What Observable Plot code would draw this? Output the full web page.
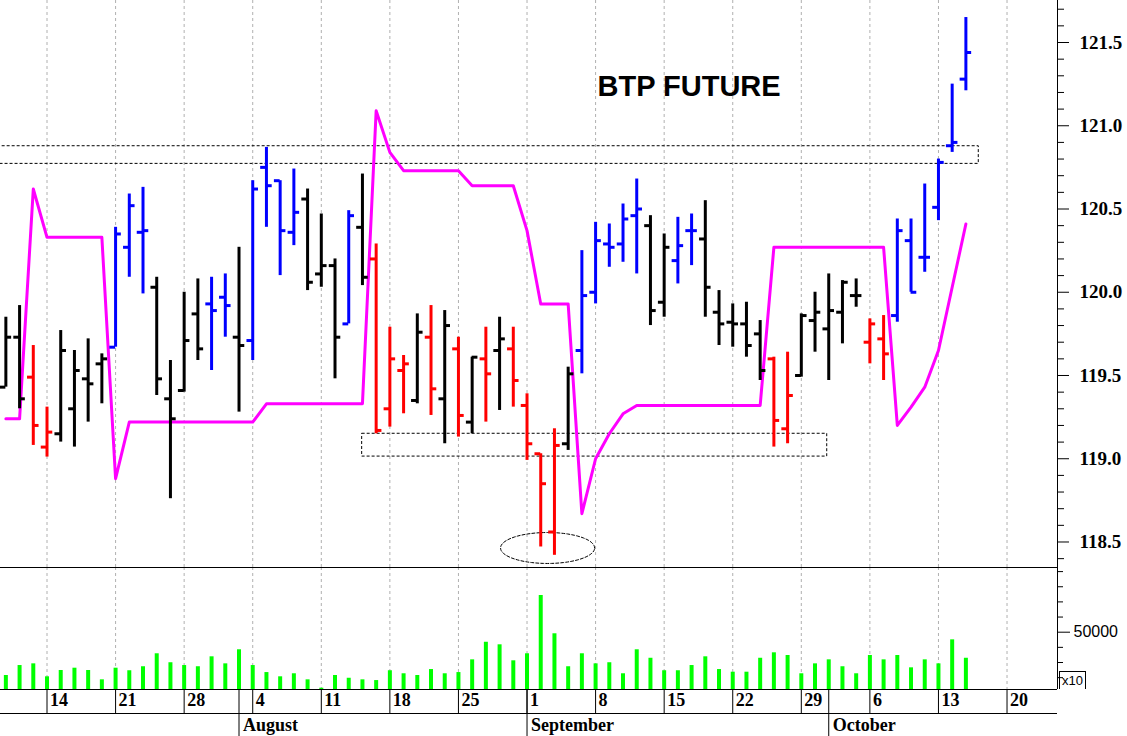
<!DOCTYPE html>
<html><head><meta charset="utf-8">
<script src="https://cdn.jsdelivr.net/npm/d3@7"></script>
<script src="https://cdn.jsdelivr.net/npm/@observablehq/plot@0.6"></script>
<style>
html,body{margin:0;padding:0;background:#fff;}
#wrap{position:relative;width:1127px;height:736px;overflow:hidden;background:#fff;}
#wrap svg{display:block;}
#x10{position:absolute;z-index:2;left:1059px;top:671px;width:27px;height:18px;border:1px solid #000;border-bottom:none;box-sizing:border-box;font:13px "Liberation Sans",Arial,sans-serif;line-height:17px;text-align:center;color:#000;}
</style></head>
<body><div id="wrap"><div id="x10">x10</div></div>
<script>
// ---- data ----
const dates = [
"2014-07-09","2014-07-10","2014-07-11","2014-07-14","2014-07-15","2014-07-16","2014-07-17","2014-07-18","2014-07-21","2014-07-22",
"2014-07-23","2014-07-24","2014-07-25","2014-07-28","2014-07-29","2014-07-30","2014-07-31","2014-08-01","2014-08-04","2014-08-05",
"2014-08-06","2014-08-07","2014-08-08","2014-08-11","2014-08-12","2014-08-13","2014-08-14","2014-08-15","2014-08-18","2014-08-19",
"2014-08-20","2014-08-21","2014-08-22","2014-08-25","2014-08-26","2014-08-27","2014-08-28","2014-08-29","2014-09-01","2014-09-02",
"2014-09-03","2014-09-04","2014-09-05","2014-09-08","2014-09-09","2014-09-10","2014-09-11","2014-09-12","2014-09-15","2014-09-16",
"2014-09-17","2014-09-18","2014-09-19","2014-09-22","2014-09-23","2014-09-24","2014-09-25","2014-09-26","2014-09-29","2014-09-30",
"2014-10-01","2014-10-02","2014-10-03","2014-10-06","2014-10-07","2014-10-08","2014-10-09","2014-10-10","2014-10-13","2014-10-14",
"2014-10-15"];
const open = [
119.43,119.73,119.49,119.07,119.15,119.30,119.48,119.57,119.67,120.27,
120.36,120.03,119.36,119.41,119.87,119.93,119.97,119.73,119.71,120.75,
120.67,120.36,120.56,120.11,120.16,119.81,120.39,120.20,119.30,119.53,
119.35,119.73,119.36,119.66,119.22,119.60,119.65,119.66,119.32,119.03,
118.56,119.09,119.65,120.00,120.29,120.29,120.46,120.40,119.94,120.19,
120.37,120.32,119.88,119.82,119.81,119.75,119.60,119.18,119.50,119.83,
119.78,119.88,119.98,119.70,119.72,119.86,120.31,120.21,120.51,120.88,
121.28];
const high = [
119.85,119.92,119.68,119.31,119.77,119.65,119.72,119.63,120.39,120.59,
120.63,120.09,119.59,120.00,120.08,120.09,120.11,120.27,120.67,120.87,
120.67,120.74,120.62,120.47,120.20,120.49,120.71,120.29,119.79,119.62,
119.87,119.92,119.89,119.73,119.61,119.79,119.85,119.79,119.39,119.03,
119.18,119.55,120.25,120.42,120.41,120.53,120.68,120.46,120.35,120.45,
120.47,120.55,120.01,119.93,119.94,119.83,119.61,119.64,119.87,120.00,
120.11,120.07,120.08,119.84,119.86,120.44,120.44,120.65,120.80,121.25,
121.65];
const low = [
119.43,119.30,119.08,119.01,119.10,119.07,119.22,119.33,119.67,120.09,
119.99,119.38,118.76,119.40,119.59,119.53,119.73,119.28,119.59,120.39,
120.10,120.28,120.01,120.03,119.48,119.81,120.04,119.15,119.19,119.27,
119.33,119.26,119.09,119.13,119.15,119.22,119.29,119.31,118.99,118.47,
118.42,119.05,119.51,119.93,120.15,120.18,120.11,119.80,119.85,120.05,
120.16,119.85,119.68,119.67,119.61,119.47,119.07,119.09,119.49,119.64,
119.47,119.69,119.91,119.57,119.47,119.82,120.00,120.12,120.43,120.84,
121.21];
const close = [
119.73,119.36,119.20,119.16,119.65,119.53,119.45,119.60,120.35,120.52,
120.37,119.48,119.24,119.71,119.66,119.89,119.92,119.68,120.62,120.64,
120.37,120.48,120.06,120.16,119.73,120.46,120.09,119.17,119.60,119.57,
119.76,119.42,119.80,119.26,119.61,119.51,119.72,119.47,119.09,118.85,
119.08,119.51,119.98,120.31,120.27,120.44,120.50,119.89,120.27,120.28,
120.37,120.03,119.81,119.81,119.68,119.53,119.23,119.38,119.86,119.88,
119.89,120.06,119.98,119.81,119.63,120.37,120.00,120.21,120.78,120.90,
121.44];
// bar colour state: k = neutral, b = up-trend, r = down-trend
const barState = [
"k","k","r","r","k","k","k","k","b","b",
"b","k","k","k","k","b","b","k","b","b",
"b","b","k","k","k","b","k","r","r","r",
"k","r","k","r","k","r","k","r","r","r",
"r","k","b","b","b","b","b","k","k","b",
"b","k","k","k","k","k","r","r","k","k",
"k","k","k","r","r","b","b","b","b","b",
"b"];
const stopLine = [
119.24,119.24,120.62,120.33,120.33,120.33,120.33,120.33,118.88,119.22,
119.22,119.22,119.22,119.22,119.22,119.22,119.22,119.22,119.22,119.33,
119.33,119.33,119.33,119.33,119.33,119.33,119.33,121.09,120.84,120.73,
120.73,120.73,120.73,120.73,120.64,120.64,120.64,120.64,120.37,119.93,
119.93,119.93,118.67,119.00,119.15,119.27,119.32,119.32,119.32,119.32,
119.32,119.32,119.32,119.32,119.32,119.32,120.27,120.27,120.27,120.27,
120.27,120.27,120.27,120.27,120.27,119.20,119.31,119.43,119.65,120.03,
120.41];
const volume = [
14300,22500,23900,13200,18400,20300,18400,10700,20300,18200,
21500,32200,24800,22500,21500,29700,23900,35500,22500,16700,
13200,15700,10700,3800,14300,12000,10700,10100,18200,15700,
14300,19200,15700,16700,27200,41700,39600,26400,32200,80300,
48700,21500,32200,23900,24800,15700,35500,28500,18200,18200,
22500,29700,19200,17000,17000,28500,33000,30800,15700,23900,
27200,21500,15700,30800,27200,30800,20600,27200,23900,43700,
28500];
const priceTicks = [118.5, 119.0, 119.5, 120.0, 120.5, 121.0, 121.5];
const volumeTicks = [50000];
const title = "BTP FUTURE";
// annotations (data units: trading-day index / price)
const boxes = [
  {x1: -1, x2: 70.94, y1: 120.771, y2: 120.877},
  {x1: 25.98, x2: 59.89, y1: 119.013, y2: 119.150}
];
const ellipseSpec = {cx: 39.5, cy: 118.464, rx: 3.43, ry: 0.093};

// ---- derived structures ----
const colorOf = {k: "#000000", b: "#0000ff", r: "#ff0000"};
const parse = d3.utcParse("%Y-%m-%d");
const key = d3.utcFormat("%Y-%m-%d");
const calendar = d3.utcDay.range(parse("2014-07-09"), parse("2014-10-25")).filter(d => d.getUTCDay() % 6 !== 0);
const calIndex = new Map(calendar.map((d, i) => [key(d), i]));
const rows = dates.map((d, k) => ({
  i: calIndex.get(d), o: open[k], h: high[k], l: low[k], c: close[k],
  col: colorOf[barState[k]], stop: stopLine[k], vol: volume[k]
}));
const cal = calendar.map((d, i) => ({d, i}));
const weekTicks = cal.filter(e => e.d.getUTCDay() === 1);
const monthTicks = cal.filter((e, k, a) => k > 0 && e.d.getUTCMonth() !== a[k - 1].d.getUTCMonth());
const ellipse = d3.range(73).map(k => {
  const t = 2 * Math.PI * k / 72;
  return {x: ellipseSpec.cx + ellipseSpec.rx * Math.cos(t), y: ellipseSpec.cy + ellipseSpec.ry * Math.sin(t)};
});
const minorPrice = d3.range(1184, 1218).map(v => v / 10).filter(v => Math.abs(v * 2 - Math.round(v * 2)) > 1e-6);
const minorVol = [12500, 25000, 37500, 62500, 75000, 87500, 100000];

const W = 1127, MR = 70;
const xDomain = [-0.391, 76.68];
const priceDomain = [118.3468, 121.7523];
const volDomain = [2723, 103383];
const grid = {stroke: "#b0b0b0", strokeDasharray: "3,3", strokeWidth: 1};
const dash = {stroke: "#000", strokeDasharray: "3,2", strokeWidth: 1};
const serifBold = {fontFamily: "Liberation Serif", fontWeight: "bold"};

const pricePlot = Plot.plot({
  width: W, height: 567, marginLeft: 0, marginRight: MR, marginTop: 0, marginBottom: 0,
  x: {domain: xDomain, axis: null, label: null},
  y: {domain: priceDomain, label: null},
  color: {type: "identity"},
  style: {background: "transparent", fontFamily: "Liberation Sans", color: "#000"},
  marks: [
    Plot.ruleX(weekTicks, {x: "i", ...grid}),
    Plot.rect(boxes, {x1: "x1", x2: "x2", y1: "y1", y2: "y2", fill: "none", ...dash, clip: true}),
    Plot.line(ellipse, {x: "x", y: "y", curve: "linear-closed", fill: "none", ...dash}),
    Plot.line(rows, {x: "i", y: "stop", stroke: "#ff00ff", strokeWidth: 3}),
    Plot.ruleX(rows, {x: "i", y1: "l", y2: "h", stroke: "col", strokeWidth: 3}),
    Plot.ruleY(rows, {x1: d => d.i - 0.42, x2: "i", y: "o", stroke: "col", strokeWidth: 3}),
    Plot.ruleY(rows, {x1: "i", x2: d => d.i + 0.42, y: "c", stroke: "col", strokeWidth: 3}),
    Plot.axisY({anchor: "right", ticks: minorPrice, tickSize: 6, tickFormat: () => "", label: null}),
    Plot.axisY({anchor: "right", ticks: priceTicks, tickSize: 11, tickPadding: 11, tickFormat: d3.format(".1f"), fontSize: 19, label: null, ...serifBold}),
    Plot.ruleX([xDomain[1]], {stroke: "#000"}),
    Plot.text([title], {frameAnchor: "top-left", dx: 597, dy: 95, lineAnchor: "bottom", textAnchor: "start", fontSize: 29, fontWeight: "bold", fontFamily: "Liberation Sans", fill: "#000"})
  ]
});

const volPlot = Plot.plot({
  width: W, height: 169, marginLeft: 0, marginRight: MR, marginTop: 0, marginBottom: 47,
  x: {domain: xDomain, axis: null, label: null},
  y: {domain: volDomain, label: null},
  color: {type: "identity"},
  style: {background: "transparent", fontFamily: "Liberation Sans", color: "#000", overflow: "visible"},
  marks: [
    Plot.ruleX(weekTicks, {x: "i", ...grid}),
    Plot.ruleX(rows, {x: "i", y1: 0, y2: "vol", stroke: "#00ff00", strokeWidth: 4, clip: true}),
    Plot.axisY({anchor: "right", ticks: minorVol, tickSize: 5, tickFormat: () => "", label: null}),
    Plot.axisY({anchor: "right", ticks: volumeTicks, tickSize: 12, tickPadding: 4, tickFormat: d => String(d), fontSize: 16, fontFamily: "Liberation Sans", label: null}),
    Plot.ruleX([xDomain[1]], {stroke: "#000"}),
    Plot.ruleY([volDomain[1]], {stroke: "#000"}),
    Plot.ruleY([volDomain[0]], {stroke: "#000"}),
    Plot.ruleY([volDomain[0]], {stroke: "#000", dy: 24}),
    Plot.ruleX(weekTicks, {x: "i", stroke: "#000", insetTop: 122, insetBottom: -24}),
    Plot.ruleX(monthTicks, {x: "i", stroke: "#000", insetTop: 122, insetBottom: -47}),
    Plot.text(weekTicks, {x: "i", text: e => String(e.d.getUTCDate()), frameAnchor: "bottom", dy: 16, dx: 3, textAnchor: "start", fontSize: 18, fill: "#000", ...serifBold}),
    Plot.text(monthTicks, {x: "i", text: e => d3.utcFormat("%B")(e.d), frameAnchor: "bottom", dy: 41, dx: 4, textAnchor: "start", fontSize: 18, fill: "#000", ...serifBold})
  ]
});

const wrap = document.getElementById("wrap");
wrap.insertBefore(volPlot, wrap.firstChild);
wrap.insertBefore(pricePlot, volPlot);
</script>
</body></html>
